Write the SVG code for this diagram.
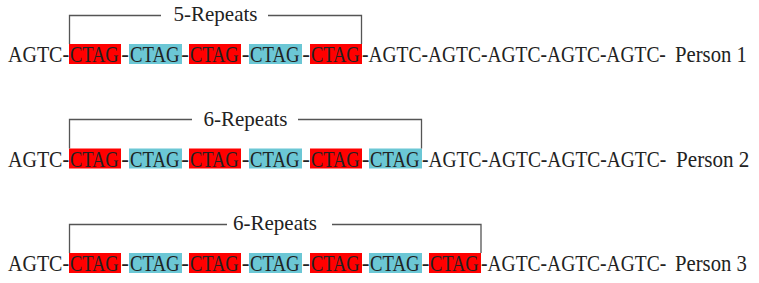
<svg xmlns="http://www.w3.org/2000/svg" width="759" height="283" viewBox="0 0 759 283">
<style>
text{font-family:"Liberation Serif","DejaVu Serif",serif;fill:#222;}
.seq{font-size:23px;}
.lbl{font-size:21px;}
.r{fill:#ff0000;}
.c{fill:#6bc7d5;}
.br{fill:none;stroke:#555;stroke-width:1.3;}
</style>
<defs>
<g id="red"><rect class="r" x="0" y="0" width="52" height="20"/><text class="seq" transform="translate(1,18) scale(0.8,1)">CTAG</text></g>
<g id="cyan"><rect class="c" x="0" y="0" width="53" height="20"/><text class="seq" transform="translate(1,18) scale(0.815,1)">CTAG</text></g>
<g id="dash"><text class="seq" x="0" y="18" text-anchor="middle">-</text></g>
<text id="head" class="seq" transform="translate(8,18) scale(0.87,1)">AGTC-</text>
</defs>

<g id="person1" transform="translate(0,44)">
<use href="#head"/>
<use href="#red" x="69"/><use href="#dash" x="125"/>
<use href="#cyan" x="129"/><use href="#dash" x="185"/>
<use href="#red" x="189"/><use href="#dash" x="245.5"/>
<use href="#cyan" x="249"/><use href="#dash" x="306"/>
<use href="#red" x="310"/>
<text class="seq" transform="translate(362,18) scale(0.847,1)">-AGTC-AGTC-AGTC-AGTC-AGTC-</text>
<text class="seq" transform="translate(675,18) scale(0.9,1)">Person 1</text>
<text class="lbl" x="215.5" y="-23" text-anchor="middle">5-Repeats</text>
</g>

<g id="person2" transform="translate(0,148.5)">
<use href="#head"/>
<use href="#red" x="69"/><use href="#dash" x="125"/>
<use href="#cyan" x="129"/><use href="#dash" x="185"/>
<use href="#red" x="189"/><use href="#dash" x="245.5"/>
<use href="#cyan" x="249"/><use href="#dash" x="306"/>
<use href="#red" x="310"/><use href="#dash" x="365.5"/>
<use href="#cyan" x="369"/>
<text class="seq" transform="translate(422,18) scale(0.846,1)">-AGTC-AGTC-AGTC-AGTC-</text>
<text class="seq" transform="translate(676,18) scale(0.92,1)">Person 2</text>
<text class="lbl" x="245.5" y="-23" text-anchor="middle">6-Repeats</text>
</g>

<g id="person3" transform="translate(0,253)">
<use href="#head"/>
<use href="#red" x="69"/><use href="#dash" x="125"/>
<use href="#cyan" x="129"/><use href="#dash" x="185"/>
<use href="#red" x="189"/><use href="#dash" x="245.5"/>
<use href="#cyan" x="249"/><use href="#dash" x="306"/>
<use href="#red" x="310"/><use href="#dash" x="365.5"/>
<use href="#cyan" x="369"/><use href="#dash" x="425.5"/>
<use href="#red" x="429"/>
<text class="seq" transform="translate(481,18) scale(0.848,1)">-AGTC-AGTC-AGTC-</text>
<text class="seq" transform="translate(675,18) scale(0.9,1)">Person 3</text>
<text class="lbl" x="275" y="-23" text-anchor="middle">6-Repeats</text>
</g>

<g id="connectors">
<path class="br" d="M69.5,44 V15.5 H161 M268,15.5 H361.5 V44"/>
<path class="br" d="M69.5,148.5 V119.5 H192 M298,119.5 H421.5 V148.5"/>
<path class="br" d="M69.5,253 V224.5 H227 M332,224.5 H481 V253"/>
</g>
</svg>
